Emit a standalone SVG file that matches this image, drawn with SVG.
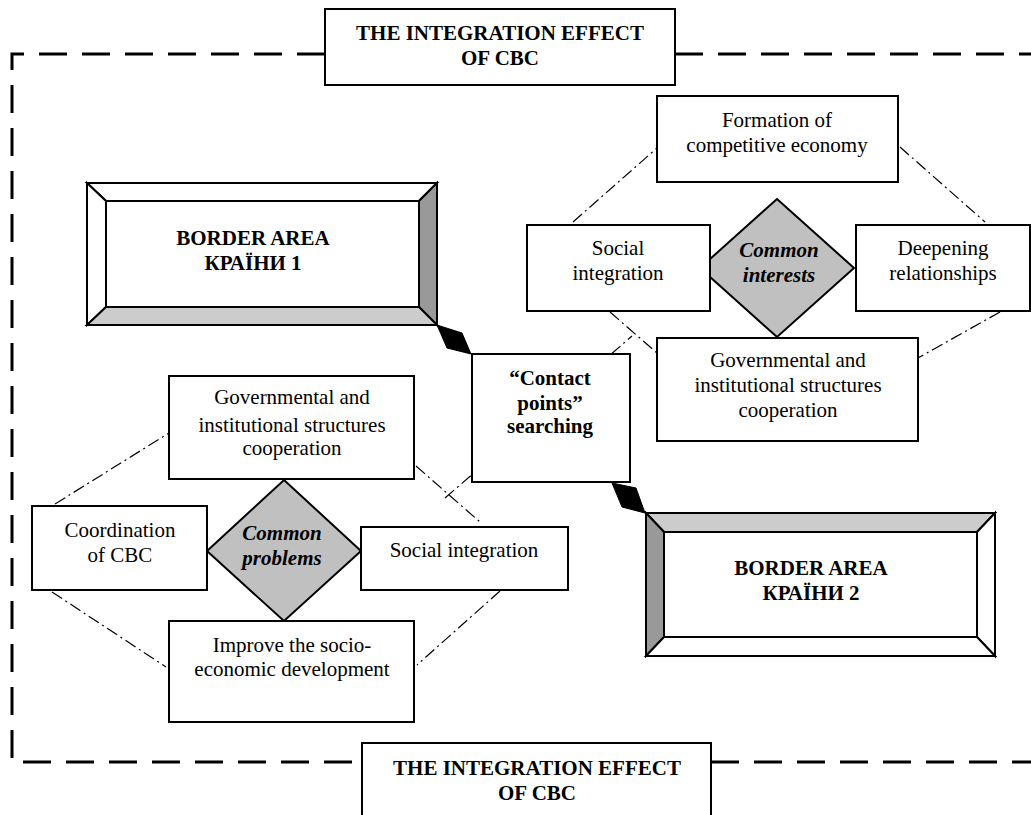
<svg xmlns="http://www.w3.org/2000/svg" width="1031" height="815" viewBox="0 0 1031 815">
<style>
.t{font-family:"Liberation Serif","Times New Roman",serif;font-size:21px;fill:#000;text-anchor:middle}
.b{font-weight:bold}
.bi{font-weight:bold;font-style:italic}
.box{fill:#fff;stroke:#000;stroke-width:2}
.dd{fill:none;stroke:#000;stroke-width:1.2;stroke-dasharray:12,4,2,4}
.border{fill:none;stroke:#000;stroke-width:3;stroke-dasharray:28,15}
.bev{stroke:#000;stroke-width:2;stroke-linejoin:miter}
.dia{fill:#c0c0c0;stroke:#000;stroke-width:2}
.conn{fill:#000;stroke:#000;stroke-width:1}
</style>
<rect width="1031" height="815" fill="#fff"/>
<g id="connectors">
  <path class="border" d="M325,54 H12 V762 H362"/>
  <path class="border" d="M675,54 H1031"/>
  <path class="border" d="M711,762 H1031"/>
  <line class="dd" x1="573" y1="222" x2="657" y2="148"/>
  <line class="dd" x1="900" y1="147" x2="985" y2="222"/>
  <line class="dd" x1="1000" y1="312" x2="918" y2="358"/>
  <line class="dd" x1="610" y1="312" x2="657" y2="353"/>
  <line class="dd" x1="445" y1="498" x2="632" y2="336"/>
  <line class="dd" x1="55" y1="504" x2="169" y2="433"/>
  <line class="dd" x1="416" y1="466" x2="480" y2="522"/>
  <line class="dd" x1="52" y1="592" x2="166" y2="667"/>
  <line class="dd" x1="500" y1="591" x2="417" y2="665"/>
  <polygon class="conn" points="437,325 462,333 471,354 447,348"/>
  <polygon class="conn" points="612,483 636,488 645,513 622,507"/>
</g>
<g id="title-top">
  <rect class="box" x="325" y="9" width="350" height="76"/>
  <text class="t b" x="500" y="40">THE INTEGRATION EFFECT</text>
  <text class="t b" x="500" y="65">OF CBC</text>
</g>
<g id="title-bottom">
  <rect class="box" x="362" y="743" width="349" height="80"/>
  <text class="t b" x="537" y="775">THE INTEGRATION EFFECT</text>
  <text class="t b" x="537" y="800">OF CBC</text>
</g>
<g id="border-area-1">
  <polygon class="bev" fill="#fff" points="87,183 437,183 419,201 106,201"/>
  <polygon class="bev" fill="#fff" points="87,183 106,201 106,307 87,325"/>
  <polygon class="bev" fill="#999" points="437,183 437,325 419,307 419,201"/>
  <polygon class="bev" fill="#ccc" points="87,325 437,325 419,307 106,307"/>
  <rect x="106" y="201" width="313" height="106" fill="#fff" stroke="#000" stroke-width="2"/>
  <text class="t b" x="253" y="245">BORDER AREA</text>
  <text class="t b" x="253" y="270">КРАЇНИ 1</text>
</g>
<g id="border-area-2">
  <polygon class="bev" fill="#ccc" points="646,513 995,513 977,532 664,532"/>
  <polygon class="bev" fill="#999" points="646,513 664,532 664,637 646,656"/>
  <polygon class="bev" fill="#fff" points="995,513 995,656 977,637 977,532"/>
  <polygon class="bev" fill="#fff" points="646,656 995,656 977,637 664,637"/>
  <rect x="664" y="532" width="313" height="105" fill="#fff" stroke="#000" stroke-width="2"/>
  <text class="t b" x="811" y="575">BORDER AREA</text>
  <text class="t b" x="811" y="600">КРАЇНИ 2</text>
</g>
<g id="contact-points">
  <rect class="box" x="472" y="354" width="158" height="128"/>
  <text class="t b" x="550" y="385">“Contact</text>
  <text class="t b" x="550" y="410">points”</text>
  <text class="t b" x="550" y="433">searching</text>
</g>
<g id="common-interests">
  <polygon class="dia" points="777,199 854,268 777,337 700,268"/>
  <text class="t bi" x="779" y="257">Common</text>
  <text class="t bi" x="779" y="282">interests</text>
</g>
<g id="formation">
  <rect class="box" x="657" y="96" width="241" height="86"/>
  <text class="t" x="777" y="127">Formation of</text>
  <text class="t" x="777" y="152">competitive economy</text>
</g>
<g id="social-integration-right">
  <rect class="box" x="527" y="225" width="183" height="86"/>
  <text class="t" x="618" y="255">Social</text>
  <text class="t" x="618" y="280">integration</text>
</g>
<g id="deepening">
  <rect class="box" x="856" y="225" width="174" height="86"/>
  <text class="t" x="943" y="255">Deepening</text>
  <text class="t" x="943" y="280">relationships</text>
</g>
<g id="governmental-right">
  <rect class="box" x="657" y="338" width="261" height="103"/>
  <text class="t" x="788" y="367">Governmental and</text>
  <text class="t" x="788" y="392">institutional structures</text>
  <text class="t" x="788" y="417">cooperation</text>
</g>
<g id="common-problems">
  <polygon class="dia" points="284,480 361,551 284,621 207,551"/>
  <text class="t bi" x="282" y="540">Common</text>
  <text class="t bi" x="282" y="565">problems</text>
</g>
<g id="governmental-left">
  <rect class="box" x="169" y="376" width="245" height="103"/>
  <text class="t" x="292" y="404">Governmental and</text>
  <text class="t" x="292" y="432">institutional structures</text>
  <text class="t" x="292" y="455">cooperation</text>
</g>
<g id="coordination">
  <rect class="box" x="32" y="506" width="175" height="84"/>
  <text class="t" x="120" y="537">Coordination</text>
  <text class="t" x="120" y="562">of CBC</text>
</g>
<g id="social-integration-left">
  <rect class="box" x="361" y="527" width="207" height="63"/>
  <text class="t" x="464" y="557">Social integration</text>
</g>
<g id="improve">
  <rect class="box" x="169" y="621" width="245" height="101"/>
  <text class="t" x="292" y="652">Improve the socio-</text>
  <text class="t" x="292" y="676">economic development</text>
</g>
</svg>
